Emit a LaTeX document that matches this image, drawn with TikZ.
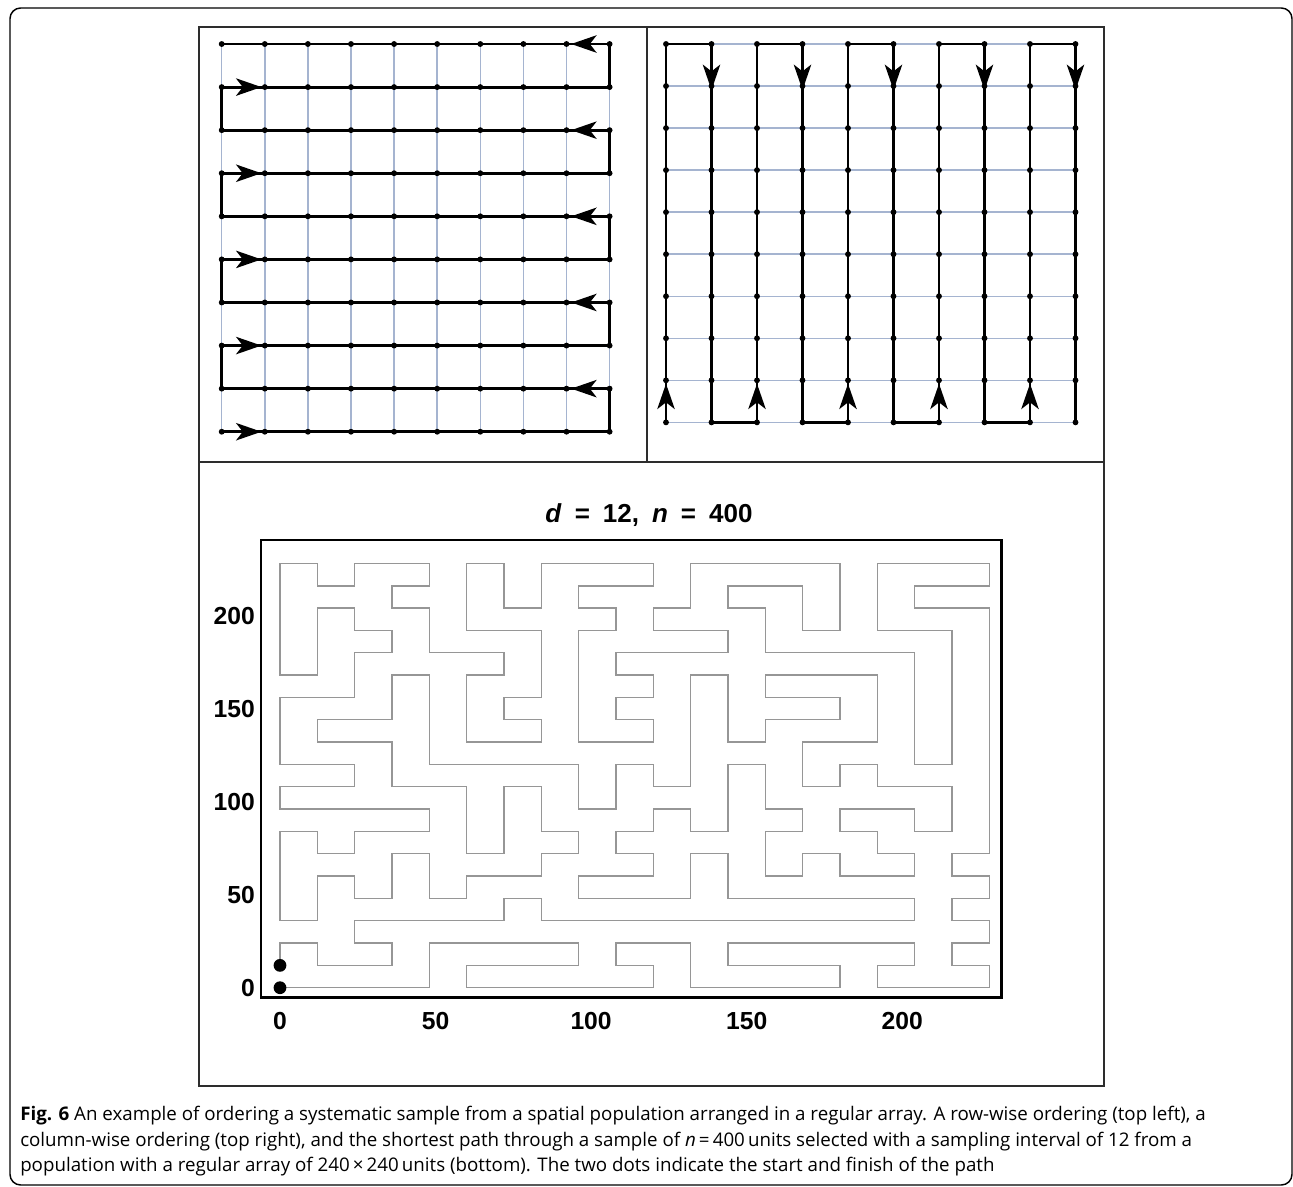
\documentclass[tikz,border=0pt]{standalone}
\usepackage{fontspec}
\setmainfont{Open Sans}
\newfontfamily\lab{Liberation Sans}
\usetikzlibrary{arrows.meta}
\definecolor{gridc}{RGB}{165,180,208}
\definecolor{mazec}{RGB}{150,150,150}
\definecolor{boxc}{RGB}{45,45,45}
\begin{document}
\begin{tikzpicture}[x=0.75pt,y=-0.75pt,
  pathline/.style={line width=2.2pt,line join=miter},
  gridline/.style={line width=1.1pt,draw=gridc},
  boxline/.style={line width=1.4pt,draw=boxc},
  arr/.style={-{Stealth[length=19pt,width=13pt,inset=5pt]},line width=2.2pt},
  mazeline/.style={line width=1.1pt,draw=mazec,line join=miter},
  axlab/.style={font=\lab\bfseries\fontsize{18.5}{20}\selectfont,inner sep=0pt},
  titlab/.style={font=\lab\bfseries\fontsize{19.5}{22}\selectfont,inner sep=0pt},
  captext/.style={font=\fontsize{14.05}{17}\selectfont,inner sep=0pt,anchor=base west}]
\useasboundingbox (0,0) rectangle (1293,1186);
% outer frame
\draw[line width=1.1pt,rounded corners=8pt] (10,8) rectangle (1292,1185);
% figure box
\draw[boxline] (199,27) rectangle (1104,1086);
\draw[boxline] (647,27) -- (647,462);
\draw[boxline] (199,462) -- (1104,462);

% ---------- top left: row-wise ----------
\foreach \c in {0,...,9}{
  \foreach \r in {0,...,9}{
    \coordinate (L-\c-\r) at ({221.7+43.1*\c},{44+43.08*\r});
  }
}
\foreach \c in {0,...,9} \draw[gridline] (L-\c-0) -- (L-\c-9);
\draw[pathline] (L-0-9) -- (L-9-9) -- (L-9-8) -- (L-0-8) -- (L-0-7) -- (L-9-7) -- (L-9-6) -- (L-0-6) -- (L-0-5) -- (L-9-5) -- (L-9-4) -- (L-0-4) -- (L-0-3) -- (L-9-3) -- (L-9-2) -- (L-0-2) -- (L-0-1) -- (L-9-1) -- (L-9-0) -- (L-0-0);
\foreach \c in {0,...,9}{
  \foreach \r in {0,...,9}{
    \fill (L-\c-\r) circle (2.2pt);
  }
}
\foreach \r in {1,3,5,7,9} \draw[arr] (L-0-\r) -- ([xshift=-2.5pt]L-1-\r);
\foreach \r in {0,2,4,6,8} \draw[arr] (L-9-\r) -- ([xshift=3.5pt]L-8-\r);

% ---------- top right: column-wise ----------
\foreach \c in {0,...,9}{
  \foreach \r in {0,...,9}{
    \coordinate (R-\c-\r) at ({666+45.5*\c},{44+42.04*\r});
  }
}
\foreach \r in {0,...,9} \draw[gridline] (R-0-\r) -- (R-9-\r);
\draw[pathline] (R-0-9) -- (R-0-0) -- (R-1-0) -- (R-1-9) -- (R-2-9) -- (R-2-0) -- (R-3-0) -- (R-3-9) -- (R-4-9) -- (R-4-0) -- (R-5-0) -- (R-5-9) -- (R-6-9) -- (R-6-0) -- (R-7-0) -- (R-7-9) -- (R-8-9) -- (R-8-0) -- (R-9-0) -- (R-9-9);
\foreach \c in {0,...,9}{
  \foreach \r in {0,...,9}{
    \fill (R-\c-\r) circle (2.2pt);
  }
}
\foreach \c in {0,2,4,6,8} \draw[arr] (R-\c-9) -- ([yshift=-2.5pt]R-\c-8);
\foreach \c in {1,3,5,7,9} \draw[arr] (R-\c-0) -- ([yshift=-3pt]R-\c-1);

% ---------- bottom: shortest path ----------
\node[titlab] (title) at (649,515) {\textit{d}\hspace{0.5em}=\hspace{0.5em}12,\hspace{0.5em}\textit{n}\hspace{0.5em}=\hspace{0.5em}400};
\begin{scope}[shift={(280,987.7)},xscale=37.33,yscale=-22.33]
\draw[mazeline] (0,0) -- (4,0) -- (4,2) -- (8,2) -- (8,1) -- (5,1) -- (5,0) -- (10,0) -- (10,1) -- (9,1) -- (9,2) -- (11,2) -- (11,0) -- (15,0) -- (15,1) -- (12,1) -- (12,2) -- (17,2) -- (17,1) -- (16,1) -- (16,0) -- (19,0) -- (19,1) -- (18,1) -- (18,2) -- (19,2) -- (19,3) -- (18,3) -- (18,4) -- (19,4) -- (19,5) -- (18,5) -- (18,6) -- (19,6) -- (19,17) -- (17,17) -- (17,18) -- (19,18) -- (19,19) -- (16,19) -- (16,16) -- (18,16) -- (18,10) -- (17,10) -- (17,15) -- (13,15) -- (13,17) -- (12,17) -- (12,18) -- (14,18) -- (14,16) -- (15,16) -- (15,19) -- (11,19) -- (11,17) -- (10,17) -- (10,16) -- (12,16) -- (12,15) -- (9,15) -- (9,14) -- (10,14) -- (10,13) -- (9,13) -- (9,12) -- (10,12) -- (10,11) -- (8,11) -- (8,16) -- (9,16) -- (9,17) -- (8,17) -- (8,18) -- (10,18) -- (10,19) -- (7,19) -- (7,17) -- (6,17) -- (6,19) -- (5,19) -- (5,16) -- (7,16) -- (7,13) -- (6,13) -- (6,12) -- (7,12) -- (7,11) -- (5,11) -- (5,14) -- (6,14) -- (6,15) -- (4,15) -- (4,17) -- (3,17) -- (3,18) -- (4,18) -- (4,19) -- (2,19) -- (2,18) -- (1,18) -- (1,19) -- (0,19) -- (0,14) -- (1,14) -- (1,17) -- (2,17) -- (2,16) -- (3,16) -- (3,15) -- (2,15) -- (2,13) -- (0,13) -- (0,10) -- (2,10) -- (2,9) -- (0,9) -- (0,8) -- (4,8) -- (4,7) -- (2,7) -- (2,6) -- (1,6) -- (1,7) -- (0,7) -- (0,3) -- (1,3) -- (1,5) -- (2,5) -- (2,4) -- (3,4) -- (3,6) -- (4,6) -- (4,4) -- (5,4) -- (5,5) -- (7,5) -- (7,6) -- (8,6) -- (8,7) -- (7,7) -- (7,9) -- (6,9) -- (6,6) -- (5,6) -- (5,9) -- (3,9) -- (3,11) -- (1,11) -- (1,12) -- (3,12) -- (3,14) -- (4,14) -- (4,10) -- (8,10) -- (8,8) -- (9,8) -- (9,10) -- (10,10) -- (10,9) -- (11,9) -- (11,14) -- (12,14) -- (12,11) -- (13,11) -- (13,12) -- (15,12) -- (15,13) -- (13,13) -- (13,14) -- (16,14) -- (16,11) -- (14,11) -- (14,9) -- (15,9) -- (15,10) -- (16,10) -- (16,9) -- (18,9) -- (18,7) -- (17,7) -- (17,8) -- (15,8) -- (15,7) -- (16,7) -- (16,6) -- (17,6) -- (17,5) -- (15,5) -- (15,6) -- (14,6) -- (14,5) -- (13,5) -- (13,7) -- (14,7) -- (14,8) -- (13,8) -- (13,10) -- (12,10) -- (12,7) -- (11,7) -- (11,8) -- (10,8) -- (10,7) -- (9,7) -- (9,6) -- (10,6) -- (10,5) -- (8,5) -- (8,4) -- (11,4) -- (11,6) -- (12,6) -- (12,4) -- (17,4) -- (17,3) -- (7,3) -- (7,4) -- (6,4) -- (6,3) -- (2,3) -- (2,2) -- (3,2) -- (3,1) -- (1,1) -- (1,2) -- (0,2) -- (0,1);
\coordinate (startpt) at (0,0);
\coordinate (endpt) at (0,1);
\end{scope}
\fill (startpt) circle (4.8pt);
\fill (endpt) circle (4.8pt);
\draw[line width=2.2pt] (261,540) rectangle (1001.5,997.5);
% axis labels
\node[axlab,anchor=east] (y0) at (255,987.7) {0};
\node[axlab,anchor=east] (y50) at (255,894.65) {50};
\node[axlab,anchor=east] (y100) at (255,801.6) {100};
\node[axlab,anchor=east] (y150) at (255,708.55) {150};
\node[axlab,anchor=east] (y200) at (255,615.5) {200};
\node[axlab] (x0) at (280,1021) {0};
\node[axlab] (x50) at (435.6,1021) {50};
\node[axlab] (x100) at (591.1,1021) {100};
\node[axlab] (x150) at (746.7,1021) {150};
\node[axlab] (x200) at (902.2,1021) {200};

% ---------- caption ----------
\node[captext] (cap1) at (20,1120.7) {\textbf{Fig. 6} An example of ordering a systematic sample from a spatial population arranged in a regular array. A row-wise ordering (top left), a};
\node[captext] (cap2) at (20,1146) {column-wise ordering (top right), and the shortest path through a sample of \textit{n}\,=\,400\,units selected with a sampling interval of 12 from a};
\node[captext] (cap3) at (20,1171) {population with a regular array of 240\,×\,240\,units (bottom). The two dots indicate the start and finish of the path};
\end{tikzpicture}
\end{document}
